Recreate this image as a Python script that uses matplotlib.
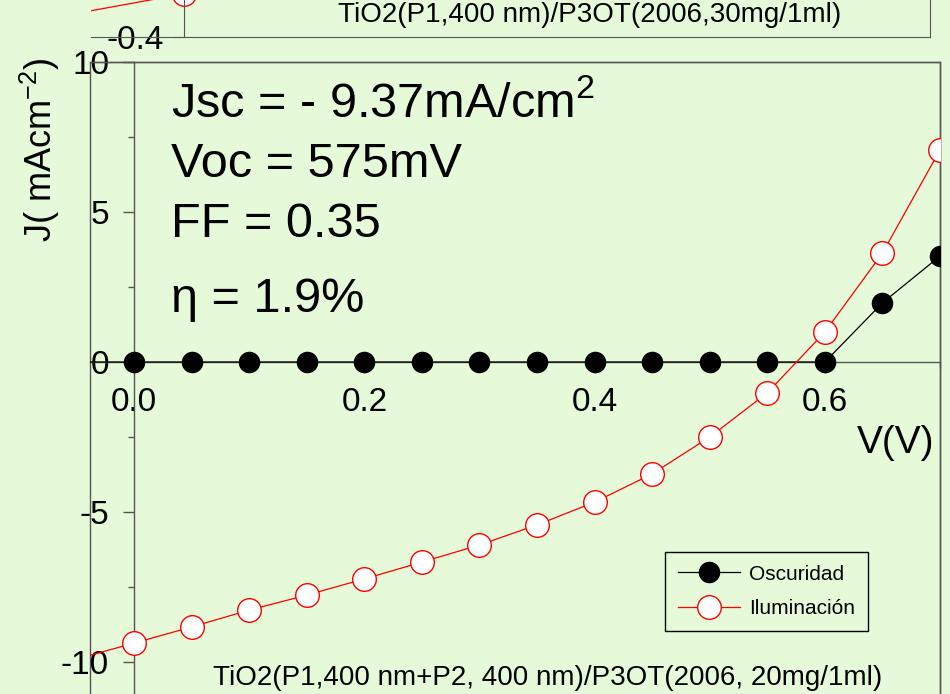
import numpy as np
import matplotlib.pyplot as plt
from matplotlib.patches import Rectangle
from matplotlib.ticker import MultipleLocator

# ===================== 数据 =====================
V = [-0.05, 0.0, 0.05, 0.10, 0.15, 0.20, 0.25, 0.30, 0.35, 0.40, 0.45, 0.50, 0.55, 0.60, 0.65, 0.70]
J_dark = [0, 0, 0, 0, 0, 0, 0, 0, 0, 0, 0, 0, 0, 0, 1.97, 3.53]
J_light = [-9.9, -9.37, -8.83, -8.27, -7.77, -7.23, -6.67, -6.10, -5.43, -4.67, -3.73, -2.50, -1.03, 1.00, 3.63, 7.07]

# 上方图(只露出底部一小块)
V_top = [-0.12, 0.0]
J_top = [-0.347, -0.285]

TITLE_MAIN = "TiO2(P1,400 nm+P2, 400 nm)/P3OT(2006, 20mg/1ml)"
TITLE_TOP = "TiO2(P1,400 nm)/P3OT(2006,30mg/1ml)"
PARAMS = ["Jsc = - 9.37mA/cm$^2$", "Voc = 575mV", "FF = 0.35", "η = 1.9%"]
PARAM_Y = [8.57, 6.57, 4.57, 2.1]

BG = "#e6f9d8"
SPINE = "#555555"

plt.rcParams['font.family'] = ['Liberation Sans', 'DejaVu Sans']
plt.rcParams['mathtext.fontset'] = 'custom'
plt.rcParams['mathtext.rm'] = 'Liberation Sans'
plt.rcParams['axes.unicode_minus'] = False

W, H = 950, 694
fig = plt.figure(figsize=(9.5, 6.94), dpi=100, facecolor=BG)


def px_rect(x0, x1, ytop, ybot):
    return [x0 / W, 1 - ybot / H, (x1 - x0) / W, (ybot - ytop) / H]


# ===================== 主图 =====================
ax = fig.add_axes(px_rect(90, 940, 62, 722))
ax.set_facecolor(BG)
ax.set_xlim(-0.0383, 0.70)
ax.set_ylim(-12, 10)

ax.plot(V, J_dark, color='black', lw=0.9, marker='o', ms=14.5,
        mfc='black', mec='black', label='Oscuridad', zorder=3)
ax.plot(V, J_light, color='red', lw=0.9, marker='o', ms=17,
        mfc='white', mec='red', mew=1.0, label='Iluminación', zorder=4)

ax.spines['left'].set_position(('data', 0))
ax.spines['bottom'].set_position(('data', 0))
for s in ['left', 'bottom', 'top', 'right']:
    ax.spines[s].set_color(SPINE)
    ax.spines[s].set_linewidth(1.0)
ax.add_patch(Rectangle((0, 0), 1, 1, transform=ax.transAxes, fill=False,
                       ec=SPINE, lw=1.0, clip_on=False, zorder=1))

ax.set_xticks([0.0, 0.2, 0.4, 0.6])
ax.set_xticklabels(['0.0', '0.2', '0.4', '0.6'])
ax.xaxis.set_minor_locator(MultipleLocator(0.1))
ax.set_yticks([-10, -5, 0, 5, 10])
ax.yaxis.set_minor_locator(MultipleLocator(2.5))
ax.tick_params(axis='both', which='major', direction='out', length=8,
               width=1.0, color=SPINE, labelsize=24)
ax.tick_params(axis='x', which='major', pad=10)
ax.tick_params(axis='y', which='major', pad=10)
ax.tick_params(axis='both', which='minor', direction='out', length=4,
               width=1.0, color=SPINE)

ax.text(0.70 - 0.005, -2.7, "V(V)", ha='right', va='center', fontsize=28)

for t, y in zip(PARAMS, PARAM_Y):
    ax.text(0.032, y, t, ha='left', va='center', fontsize=35)

ax.legend(loc='upper left', bbox_to_anchor=(665 / W, 1 - 552 / H),
          bbox_transform=fig.transFigure, borderaxespad=0, fontsize=15,
          frameon=True, fancybox=False, edgecolor='black', facecolor=BG,
          framealpha=1, handlelength=3.0, handletextpad=0.45,
          labelspacing=0.75, borderpad=0.6)

fig.text(548 / W, 1 - 678 / H, TITLE_MAIN, ha='center', va='center', fontsize=20)
fig.text(40 / W, 1 - 150 / H, "J( mAcm$^{-2}$)", rotation=90,
         ha='center', va='center', fontsize=26)

# ===================== 上方图 =====================
ax2 = fig.add_axes(px_rect(91, 930, -263, 37))
ax2.set_facecolor('none')
ax2.set_xlim(-0.087, 0.70)
ax2.set_ylim(-0.4, 0.4)
ax2.plot(V_top, J_top, color='red', lw=0.9, marker='o', ms=17,
         mfc='white', mec='red', mew=1.0)
ax2.spines['left'].set_position(('data', 0))
for s in ['left', 'bottom', 'top', 'right']:
    ax2.spines[s].set_color(SPINE)
ax2.set_xticks([])
ax2.set_yticks([-0.4])
ax2.set_yticklabels(['-0.4'], va='center_baseline')
ax2.tick_params(axis='y', direction='out', length=8, color=SPINE, labelsize=24, pad=6)
for lab in ax2.get_yticklabels():
    lab.set_y(-0.41)
fig.text(590 / W, 1 - 15 / H, TITLE_TOP, ha='center', va='center', fontsize=20)

fig.savefig("out.png", dpi=100, facecolor=BG)
